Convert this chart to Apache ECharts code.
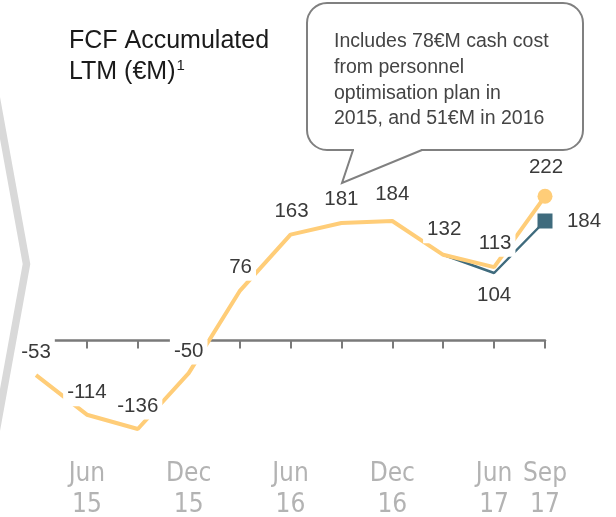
<!DOCTYPE html>
<html>
<head>
<meta charset="utf-8">
<style>
  html, body { margin: 0; padding: 0; background: #ffffff; }
  #chart { width: 616px; height: 517px; }
</style>
<script src="https://cdn.jsdelivr.net/npm/echarts@6/dist/echarts.min.js"></script>
</head>
<body>
<div id="chart"></div>
<script>
// Quarter-end periods (last twelve months, accumulated)
const categories = ['Mar 15', 'Jun 15', 'Sep 15', 'Dec 15', 'Mar 16', 'Jun 16',
                    'Sep 16', 'Dec 16', 'Mar 17', 'Jun 17', 'Sep 17'];
// Axis labels shown under the baseline
const tickLabels = ['', 'Jun\n15', '', 'Dec\n15', '', 'Jun\n16',
                    '', 'Dec\n16', '', 'Jun\n17', 'Sep\n17'];
// FCF accumulated LTM (€M)
const fcfAccumulated = [-53, -114, -136, -50, 76, 163, 181, 184, 132, 113, 222];
// Secondary FCF track for the last quarters (€M)
const fcfSecondary = [null, null, null, null, null, null, null, null, 132, 104, 184];

const titleText = 'FCF Accumulated\nLTM (€M){sup|1}';
const noteText = 'Includes 78€M cash cost\nfrom personnel\noptimisation plan in\n2015, and 51€M in 2016';

const YELLOW = '#ffcd78';
const TEAL = '#3f6b7d';
const FONT = '"Liberation Sans", Arial, sans-serif';
const AXIS_FONT = '"DejaVu Sans Condensed", "Liberation Sans", Arial, sans-serif';

// label placement (offset from the point, px)
const yellowOffsets = [[0, -23], [0, -22], [0, -23], [0, -22], [1, -24], [1, -23],
                       [0, -24], [0, -27], [1, -25], [1, -24], [1, -29]];
const tealOffsets = {9: [0, 22], 10: [39, 0]};

const last = categories.length - 1;

const baseLabel = {
  show: true,
  position: 'inside',
  color: '#3a3a3a',
  fontFamily: FONT,
  fontSize: 20.5,
  backgroundColor: '#ffffff',
  padding: [3, 4],
  formatter: '{c}'
};

const yellowData = fcfAccumulated.map((v, i) => ({
  value: v,
  symbol: 'circle',
  symbolSize: i === last ? 15 : 0,
  label: Object.assign({}, baseLabel, { offset: yellowOffsets[i] })
}));

const tealData = fcfSecondary.map((v, i) => {
  if (v === null) return null;
  const off = tealOffsets[i];
  return {
    value: v,
    symbol: 'rect',
    symbolSize: i === last ? 15 : 0,
    label: off ? Object.assign({}, baseLabel, { offset: off }) : { show: false }
  };
});

const chart = echarts.init(document.getElementById('chart'), null, { renderer: 'canvas' });

chart.setOption({
  animation: false,
  backgroundColor: '#ffffff',
  grid: [
    {
      // plotting area
      left: 36, right: 71, top: 145.6, bottom: 13.9,
      containLabel: false, outerBoundsMode: 'none'
    },
    {
      // thin strip carrying the period labels
      left: 36, right: 71, top: 443, bottom: 65,
      containLabel: false, outerBoundsMode: 'none'
    }
  ],
  xAxis: [
    {
      type: 'category',
      gridIndex: 0,
      data: categories,
      boundaryGap: false,
      axisLine: { onZero: true, lineStyle: { color: '#7a7a7a', width: 2.5 } },
      axisTick: { show: true, interval: 0, length: 8, lineStyle: { color: '#7a7a7a', width: 2 } },
      axisLabel: { show: false },
      splitLine: { show: false }
    },
    {
      type: 'category',
      gridIndex: 1,
      data: categories,
      boundaryGap: false,
      position: 'bottom',
      axisLine: { show: false, onZero: false },
      axisTick: { show: false },
      axisLabel: {
        show: true,
        interval: 0,
        margin: 7,
        color: '#b3b3b3',
        fontFamily: AXIS_FONT,
        fontSize: 26,
        lineHeight: 31,
        hideOverlap: false,
        formatter: (val, idx) => tickLabels[idx]
      },
      splitLine: { show: false }
    }
  ],
  yAxis: [
    { type: 'value', gridIndex: 0, min: -250, max: 300, show: false },
    { type: 'value', gridIndex: 1, min: 0, max: 1, show: false }
  ],
  series: [
    {
      name: 'secondary',
      type: 'line',
      xAxisIndex: 0,
      yAxisIndex: 0,
      data: tealData,
      connectNulls: false,
      lineStyle: { color: TEAL, width: 2.5 },
      itemStyle: { color: TEAL },
      z: 2
    },
    {
      name: 'accumulated',
      type: 'line',
      xAxisIndex: 0,
      yAxisIndex: 0,
      data: yellowData,
      lineStyle: { color: YELLOW, width: 4 },
      itemStyle: { color: YELLOW },
      z: 3
    }
  ],
  graphic: [
    {
      // chevron separator on the left edge
      type: 'polyline',
      shape: { points: [[-4, 96], [26.5, 264], [-4, 432]] },
      style: { stroke: '#d9d9d9', lineWidth: 7.5, fill: null },
      silent: true
    },
    {
      type: 'text',
      x: 69,
      y: 26,
      style: {
        text: titleText,
        fill: '#1a1a1a',
        font: '25px ' + FONT,
        lineHeight: 31,
        verticalAlign: 'top',
        rich: {
          sup: {
            fontSize: 15,
            fontFamily: FONT,
            fill: '#1a1a1a',
            lineHeight: 15,
            verticalAlign: 'top',
            padding: [1, 0, 0, 1]
          }
        }
      },
      silent: true
    },
    {
      // speech bubble body
      type: 'rect',
      shape: { x: 307, y: 3, width: 276, height: 147, r: 20 },
      style: { fill: '#ffffff', stroke: '#808080', lineWidth: 2 },
      silent: true
    },
    {
      // opening in the bubble's lower edge for the pointer
      type: 'polygon',
      shape: { points: [[354, 148.6], [421, 148.6], [421, 151.6], [354, 151.6]] },
      style: { fill: '#ffffff', stroke: null },
      silent: true
    },
    {
      // bubble pointer
      type: 'polyline',
      shape: { points: [[353, 150], [342, 183], [422, 150]] },
      style: { stroke: '#808080', lineWidth: 2, fill: null, lineJoin: 'miter' },
      silent: true
    },
    {
      type: 'text',
      x: 334,
      y: 29,
      style: {
        text: noteText,
        fill: '#444444',
        font: '19.5px ' + FONT,
        lineHeight: 25.7,
        verticalAlign: 'top'
      },
      silent: true
    }
  ]
});
</script>
</body>
</html>
